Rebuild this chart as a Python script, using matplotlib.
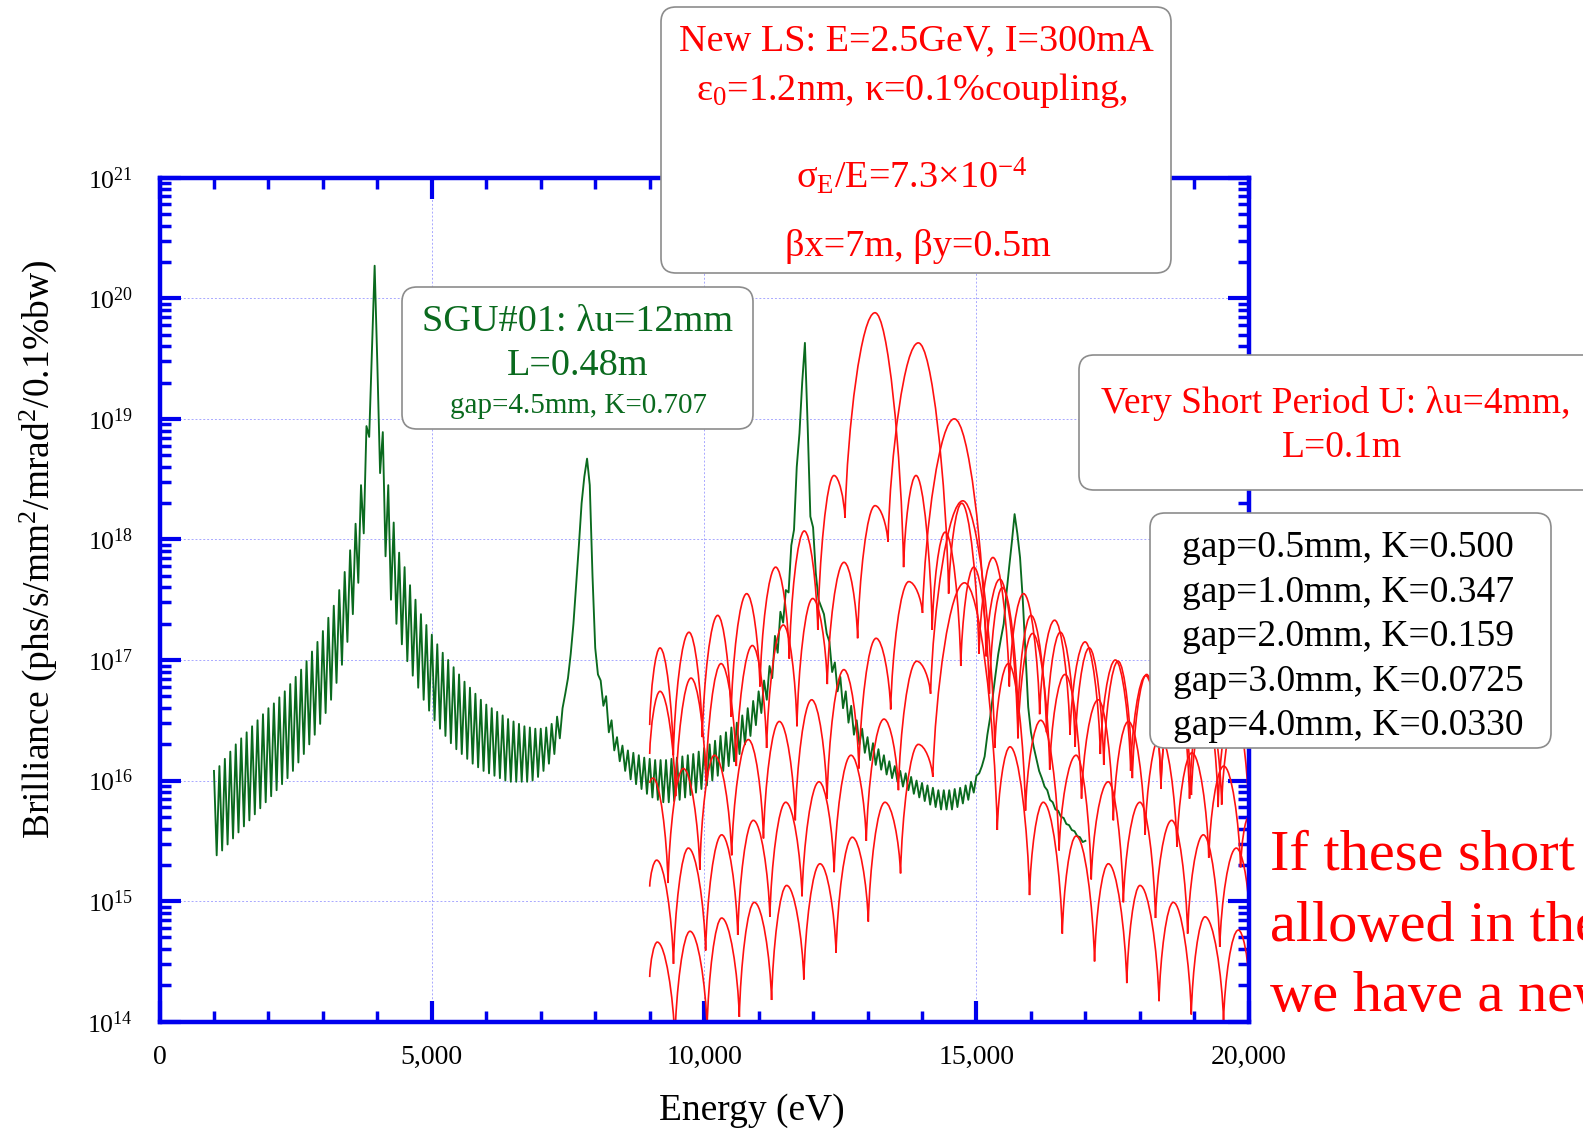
import numpy as np
import matplotlib
matplotlib.use("Agg")
import matplotlib.pyplot as plt
from matplotlib.path import Path
from matplotlib.patches import PathPatch, FancyBboxPatch
from matplotlib.ticker import MultipleLocator, LogLocator, NullFormatter, FuncFormatter

plt.rcParams['font.family'] = ['Liberation Serif', 'DejaVu Serif']
plt.rcParams['mathtext.fontset'] = 'custom'
plt.rcParams['mathtext.rm'] = 'Liberation Serif'
plt.rcParams['mathtext.it'] = 'Liberation Serif:italic'
plt.rcParams['mathtext.bf'] = 'Liberation Serif:bold'

# ---------------- SGU#01 spectrum (log10 brilliance) ----------------
# oscillation maxima sampled every 100 eV from 1000 eV, minima half-way between
green_start = 1000
green_step = 100
green_peak_level = [
    16.08, 16.12, 16.18, 16.24, 16.30, 16.35, 16.40, 16.45, 16.50, 16.55,
    16.60, 16.64, 16.69, 16.74, 16.80, 16.86, 16.92, 16.99, 17.07, 17.15,
    17.24, 17.35, 17.45, 17.58, 17.73, 17.91, 18.13, 18.45, 18.94, 19.55,
    19.45, 18.89, 18.45, 18.14, 17.89, 17.77, 17.62, 17.50, 17.38, 17.29,
    17.21, 17.13, 17.06, 17.00, 16.94, 16.88, 16.82, 16.77, 16.72, 16.67,
    16.63, 16.60, 16.57, 16.54, 16.51, 16.49, 16.47, 16.45, 16.44, 16.43,
    16.43, 16.44, 16.47, 16.53, 16.60, 16.85, 17.30, 17.95, 18.52, 18.45,
    17.10, 16.83, 16.70, 16.50, 16.36, 16.29, 16.25, 16.23, 16.21, 16.19,
    16.18, 16.17, 16.17, 16.17, 16.18, 16.19, 16.20, 16.21, 16.22, 16.24,
    16.27, 16.30, 16.33, 16.37, 16.40, 16.44, 16.48, 16.54, 16.60, 16.66,
    16.74, 16.83, 16.95, 17.20, 17.40, 17.58, 17.95, 18.60, 19.30, 18.95,
    18.10, 17.50, 17.38, 17.15, 16.98, 16.86, 16.74, 16.62, 16.50, 16.43,
    16.36, 16.31, 16.26, 16.21, 16.16, 16.12, 16.08, 16.06, 16.03, 16.00,
    15.98, 15.96, 15.94, 15.92, 15.92, 15.92, 15.93, 15.94, 15.96, 15.99,
    16.04, 16.12, 16.38, 16.70, 17.05, 17.30, 17.77, 18.21, 17.85, 17.05,
    16.40, 16.18, 16.02, 15.92, 15.82, 15.75, 15.69, 15.63, 15.58, 15.53,
    15.50,
]
green_dip_level = [
    15.38, 15.42, 15.47, 15.52, 15.57, 15.62, 15.67, 15.72, 15.77, 15.82,
    15.87, 15.92, 15.97, 16.02, 16.08, 16.15, 16.22, 16.30, 16.38, 16.47,
    16.56, 16.67, 16.81, 16.96, 17.15, 17.38, 17.64, 18.05, 18.85, 20.27,
    18.55, 17.86, 17.50, 17.30, 17.13, 16.99, 16.87, 16.77, 16.67, 16.58,
    16.50, 16.43, 16.37, 16.31, 16.26, 16.22, 16.18, 16.14, 16.11, 16.08,
    16.06, 16.04, 16.02, 16.00, 15.99, 15.99, 15.99, 15.99, 16.00, 16.03,
    16.08, 16.14, 16.22, 16.35, 16.72, 17.05, 17.62, 18.30, 18.67, 17.70,
    16.88, 16.62, 16.40, 16.25, 16.16, 16.08, 16.01, 15.97, 15.93, 15.89,
    15.86, 15.84, 15.82, 15.82, 15.83, 15.84, 15.86, 15.88, 15.90, 15.93,
    15.96, 16.00, 16.04, 16.08, 16.12, 16.16, 16.22, 16.30, 16.37, 16.46,
    16.56, 16.67, 16.85, 17.06, 17.31, 17.56, 18.08, 18.88, 19.63, 18.19,
    17.72, 17.44, 17.22, 16.90, 16.74, 16.60, 16.48, 16.38, 16.30, 16.23,
    16.17, 16.13, 16.09, 16.05, 16.02, 15.99, 15.95, 15.92, 15.89, 15.86,
    15.83, 15.80, 15.78, 15.76, 15.76, 15.76, 15.78, 15.81, 15.84, 15.90,
    16.06, 16.20, 16.52, 16.88, 17.18, 17.55, 17.98, 18.05, 17.50, 16.61,
    16.28, 16.08, 15.95, 15.84, 15.76, 15.70, 15.64, 15.59, 15.54, 15.49,
]

# ---------------- 4 mm period undulator, lobe maxima / minima ----------------
k0500_energy = [9000, 9190, 9434, 9722, 9966, 10249, 10493, 10781, 11025, 11313,
                11564, 11839, 12087, 12384, 12586, 13137, 13662, 13890, 14187, 14425,
                14712, 14950, 15237, 15475, 15762, 16000, 16287, 16540, 16812, 17070,
                17337, 17600, 17862, 18125, 18387, 18650, 18912, 19175, 19437, 19700, 20000]
k0500_level = [16.46, 17.10, 16.21, 17.23, 16.36, 17.37, 16.53, 17.55, 16.78, 17.77,
               17.01, 18.07, 17.25, 18.53, 18.18, 19.88, 17.77, 18.53, 17.25, 18.06,
               16.95, 17.77, 16.72, 17.60, 16.55, 17.37, 16.40, 17.23, 16.28, 17.10,
               16.13, 16.99, 16.02, 16.88, 15.93, 16.80, 15.85, 16.72, 15.78, 16.65, 15.75]

k0347_energy = [9000, 9190, 9476, 9759, 10033, 10310, 10590, 10885, 11147, 11454,
                11704, 11993, 12261, 12568, 12818, 13137, 13375, 13932, 14489, 14729,
                15046, 15302, 15603, 15865, 16160, 16435, 16717, 16994, 17274, 17550,
                17831, 18107, 18388, 18664, 18945, 19221, 19502, 19778, 20000]
k0347_level = [16.22, 16.74, 15.87, 16.85, 16.00, 16.97, 16.12, 17.12, 16.27, 17.29,
               16.45, 17.51, 16.80, 17.81, 17.18, 18.28, 17.98, 19.63, 17.55, 18.30,
               17.05, 17.85, 16.78, 17.55, 16.55, 17.33, 16.38, 17.15, 16.22, 17.00,
               16.08, 16.87, 15.97, 16.76, 15.88, 16.66, 15.80, 16.57, 16.25]

k0159_energy = [9000, 9061, 9337, 9618, 9921, 10187, 10505, 10811, 11089, 11380,
                11673, 11974, 12257, 12566, 12841, 13157, 13425, 13758, 14009, 14593,
                15177, 15428, 15761, 16030, 16345, 16625, 16929, 17237, 17513, 17788,
                18097, 18371, 18681, 18955, 19265, 19539, 19849, 20000]
k0159_level = [15.98, 16.02, 15.15, 16.10, 15.26, 16.21, 15.38, 16.34, 15.52, 16.49,
               15.67, 16.67, 15.85, 16.92, 16.10, 17.18, 16.59, 17.65, 17.39, 19.00,
               17.03, 17.67, 16.35, 17.22, 16.09, 16.88, 15.85, 16.67, 15.67, 16.49,
               15.55, 16.37, 15.45, 16.23, 15.36, 16.12, 15.28, 15.70]

k0073_energy = [9000, 9128, 9437, 9710, 10027, 10322, 10617, 10903, 11207, 11498,
                11797, 12109, 12387, 12696, 12977, 13302, 13567, 13903, 14157, 14750,
                15337, 15585, 15900, 16180, 16517, 16830, 17107, 17420, 17697, 18000,
                18287, 18584, 18877, 19165, 19467, 19770, 20000]
k0073_level = [15.12, 15.34, 14.48, 15.44, 14.59, 15.55, 14.72, 15.67, 14.87, 15.82,
               15.04, 15.99, 15.24, 16.21, 15.50, 16.51, 15.92, 16.99, 16.72, 18.32,
               16.27, 16.97, 15.75, 16.50, 15.42, 16.21, 15.18, 15.99, 14.99, 15.82,
               14.86, 15.67, 14.73, 15.55, 14.62, 15.44, 14.95]

k0033_energy = [9000, 9140, 9462, 9740, 10054, 10322, 10646, 10921, 11238, 11515,
                11830, 12127, 12422, 12720, 13014, 13320, 13606, 13932, 14198, 14780,
                15382, 15616, 15974, 16227, 16576, 16830, 17168, 17421, 17760, 18002,
                18352, 18614, 18944, 19196, 19536, 19807, 20000]
k0033_level = [14.37, 14.66, 13.85, 14.75, 13.95, 14.86, 14.04, 14.99, 14.18, 15.13,
               14.35, 15.31, 14.57, 15.53, 14.83, 15.82, 15.23, 16.30, 16.03, 17.64,
               15.59, 16.28, 15.05, 15.82, 14.73, 15.54, 14.50, 15.31, 14.32, 15.13,
               14.17, 14.99, 14.06, 14.87, 14.01, 14.76, 14.35]

gap_labels = ["gap=0.5mm, K=0.500", "gap=1.0mm, K=0.347", "gap=2.0mm, K=0.159",
              "gap=3.0mm, K=0.0725", "gap=4.0mm, K=0.0330"]

remark_lines = ["If these short", "allowed in the", "we have a new"]

W, H, DPI = 1583, 1130, 100
fig = plt.figure(figsize=(W / DPI, H / DPI), dpi=DPI)
ax = fig.add_axes([159.5 / W, 1 - 1021.7 / H, (1248.8 - 159.5) / W, (1021.7 - 177.7) / H])

ax.set_xlim(0, 20000)
ax.set_yscale('log')
ax.set_ylim(1e14, 1e21)

# grid
ax.grid(True, which='major', color='#a8a8ff', linestyle=(0, (2, 2)), linewidth=0.7)
ax.set_axisbelow(True)

# SGU#01 curve: alternate maxima and minima
g_hi = np.asarray(green_peak_level)
g_lo = np.asarray(green_dip_level)
g_e_hi = green_start + green_step * np.arange(len(g_hi))
g_e_lo = g_e_hi[:len(g_lo)] + green_step / 2
g_e = np.empty(len(g_hi) + len(g_lo))
g_l = np.empty_like(g_e)
g_e[0::2], g_l[0::2] = g_e_hi, g_hi
g_e[1::2], g_l[1::2] = g_e_lo, g_lo
ax.plot(g_e, 10 ** g_l, color='#0a6a1e', lw=1.35, zorder=3)


def lobe_path(energy, level):
    """Rounded lobes between listed maxima, sharp at the minima."""
    verts = [(energy[0], 10 ** level[0])]
    codes = [Path.MOVETO]
    for x0, y0, x1, y1 in zip(energy[:-1], level[:-1], energy[1:], level[1:]):
        dx, dy = x1 - x0, y1 - y0
        if dy >= 0:
            c1 = (x0 + 0.08 * dx, y0 + 0.45 * dy)
            c2 = (x1 - 0.45 * dx, y1)
        else:
            c1 = (x0 + 0.45 * dx, y0)
            c2 = (x1 - 0.08 * dx, y1 - 0.45 * dy)
        verts += [(c1[0], 10 ** c1[1]), (c2[0], 10 ** c2[1]), (x1, 10 ** y1)]
        codes += [Path.CURVE4] * 3
    return Path(verts, codes)


for e, lv in [(k0500_energy, k0500_level), (k0347_energy, k0347_level),
              (k0159_energy, k0159_level), (k0073_energy, k0073_level),
              (k0033_energy, k0033_level)]:
    ax.add_patch(PathPatch(lobe_path(e, lv), fill=False, edgecolor='#ff1010',
                           lw=1.2, zorder=4))

# axes styling
for sp in ax.spines.values():
    sp.set_color('#0000ee')
    sp.set_linewidth(3.2)
    sp.set_zorder(5)

ax.xaxis.set_major_locator(MultipleLocator(5000))
ax.xaxis.set_minor_locator(MultipleLocator(1000))
ax.yaxis.set_major_locator(LogLocator(base=10, numticks=20))
ax.yaxis.set_minor_locator(LogLocator(base=10, subs=np.arange(2, 10), numticks=20))
ax.yaxis.set_minor_formatter(NullFormatter())
ax.xaxis.set_major_formatter(FuncFormatter(lambda v, p: f"{int(round(v)):,}"))
ax.yaxis.set_major_formatter(FuncFormatter(
    lambda v, p: r"$\mathregular{10^{%d}}$" % int(round(np.log10(v)))))
ax.tick_params(which='both', direction='in', top=True, right=True, color='#0000ee')
ax.tick_params(which='major', length=15, width=3)
ax.tick_params(which='minor', length=8, width=2.5)
ax.tick_params(axis='x', which='major', labelsize=20, pad=17)
ax.tick_params(axis='y', which='major', labelsize=18.5, pad=19)


def put(xp, yp, s, size, color='black', ha='center', va='baseline', **kw):
    return fig.text(xp / DPI, (H - yp) / DPI, s, transform=fig.dpi_scale_trans,
                    fontsize=size, color=color, ha=ha, va=va, **kw)


# axis titles
put(752, 1110.5, "Energy (eV)", 27, va='center')
put(38.4, 550, r"Brilliance (phs/s/mm$^2$/mrad$^2$/0.1%bw)", 27, va='center',
    rotation=90)


def box(x0, y0, x1, y1, r=15):
    p = FancyBboxPatch((x0 / DPI, (H - y1) / DPI), (x1 - x0) / DPI, (y1 - y0) / DPI,
                       boxstyle=f"round,pad=0,rounding_size={r / DPI}",
                       transform=fig.dpi_scale_trans, facecolor='white',
                       edgecolor='#8c8c8c', lw=1.2, zorder=6)
    fig.add_artist(p)


RED = '#ff0000'
GREEN = '#0a6a1e'

# machine parameters
box(661, 7, 1171, 273)
put(916, 50, "New LS: E=2.5GeV, I=300mA", 27.5, RED, zorder=7)
put(912, 100, r"ε$_0$=1.2nm, κ=0.1%coupling,", 27.5, RED, zorder=7)
put(912, 188, r"σ$_\mathregular{E}$/E=7.3×10$^\mathregular{-4}$", 27.5, RED, zorder=7)
put(918, 256, "βx=7m, βy=0.5m", 27.5, RED, zorder=7)

# SGU#01 label
box(402, 287, 753, 429)
put(578, 331, "SGU#01: λu=12mm", 27.5, GREEN, zorder=7)
put(578, 375, "L=0.48m", 27.5, GREEN, zorder=7)
put(578, 413, "gap=4.5mm, K=0.707", 21, GREEN, zorder=7)

# short-period undulator label
box(1079, 355, 1620, 490)
put(1336, 413, "Very Short Period U: λu=4mm,", 27, RED, zorder=7)
put(1342, 457, "L=0.1m", 27, RED, zorder=7)

# gap list
box(1150, 513, 1551, 748)
for i, s in enumerate(gap_labels):
    put(1348, 557 + 44.6 * i, s, 27, 'black', zorder=7)

# remark
for i, s in enumerate(remark_lines):
    put(1270, 870 + 70.5 * i, s, 42, RED, ha='left', zorder=7)

fig.savefig("out.png", dpi=DPI)
